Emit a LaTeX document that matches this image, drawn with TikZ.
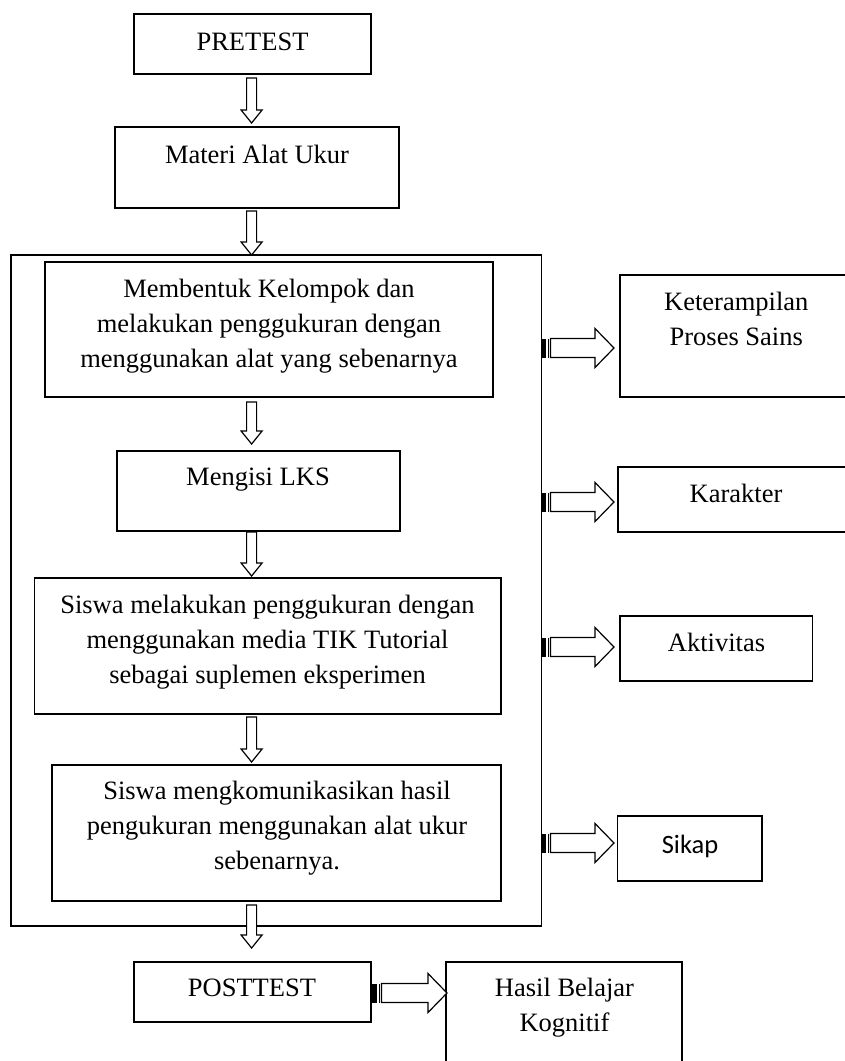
\documentclass[tikz,border=0pt]{standalone}
\usepackage{fontspec}
\setmainfont{Liberation Serif}
\newfontfamily\calib{Carlito}
\usetikzlibrary{calc}
\newcommand\ml[1]{\vtop{\baselineskip=35pt\lineskiplimit=-30pt\halign{\hfil##\hfil\cr#1\crcr}}}
\newcommand\DArr[2]{\draw[arr] let \p1=(#1), \p2=(#2) in
  (\x1-5pt,\y1) -- (\x1-5pt,\y2+13pt) -- (\x1-10.5pt,\y2+13pt) -- (\x1,\y2)
  -- (\x1+10.5pt,\y2+13pt) -- (\x1+5pt,\y2+13pt) -- (\x1+5pt,\y1) -- cycle;}
\newcommand\SArr[2]{%
  \fill let \p1=(#1) in (\x1,\y1-9.5pt) rectangle (\x1+5pt,\y1+9.5pt);
  \draw[line width=1pt] let \p1=(#1) in (\x1+7.5pt,\y1-9.5pt) -- (\x1+7.5pt,\y1+9.5pt);
  \draw[arr] let \p1=(#1), \p2=(#2) in
  (\x1+9.5pt,\y1-9.5pt) -- (\x2-19pt,\y1-9.5pt) -- (\x2-19pt,\y1-19.5pt) -- (\x2,\y1)
  -- (\x2-19pt,\y1+19.5pt) -- (\x2-19pt,\y1+9.5pt) -- (\x1+9.5pt,\y1+9.5pt) -- cycle;}
\begin{document}
\begin{tikzpicture}[x=1pt,y=-1pt,
  box/.style={draw, line width=1.5pt, inner sep=0pt},
  txt/.style={anchor=base, inner sep=0pt, font=\fontsize{26.5}{35}\selectfont},
  arr/.style={draw, line width=1.2pt, fill=white, line join=miter}]
\useasboundingbox (0,0) rectangle (845,1061);
\clip (0,0) rectangle (845,1061);
\fill[white] (0,0) rectangle (845,1061);
% boxes
\node[box, minimum width=237pt, minimum height=60pt] (pre) at (252.5,44) {};
\node[box, minimum width=284pt, minimum height=81pt] (mat) at (257,167.5) {};
\node[box, minimum width=530.5pt, minimum height=671pt] (outer) at (276.25,590.5) {};
\node[box, minimum width=448pt, minimum height=135pt] (b1) at (269,329.5) {};
\node[box, minimum width=283pt, minimum height=80pt] (lks) at (258.5,491) {};
\node[box, minimum width=466.5pt, minimum height=136pt] (b3) at (267.75,646) {};
\node[box, minimum width=449pt, minimum height=136pt] (b4) at (276.5,833) {};
\node[box, minimum width=237pt, minimum height=60pt] (post) at (252.5,992) {};
\node[box, minimum width=236pt, minimum height=113pt] (hasil) at (564,1018.5) {};
\node[box, minimum width=233pt, minimum height=122pt] (kps) at (736.5,336) {};
\node[box, minimum width=236pt, minimum height=65pt] (kar) at (736,499.5) {};
\node[box, minimum width=192.5pt, minimum height=65pt] (akt) at (716.25,648.5) {};
\node[box, minimum width=144.5pt, minimum height=65pt] (sik) at (689.75,848.5) {};
% texts
\node[txt] (pret) at (252.5,50.5) {PRETEST};
\node[txt] (matt) at (257,163.5) {Materi Alat Ukur};
\node[txt] (b1t) at (269,297.5) {\ml{Membentuk Kelompok dan\cr melakukan penggukuran dengan\cr menggunakan alat yang sebenarnya}};
\node[txt] (lkst) at (258,485) {Mengisi LKS};
\node[txt] (b3t) at (267.5,613.3) {\ml{Siswa melakukan penggukuran dengan\cr menggunakan media TIK Tutorial\cr sebagai suplemen eksperimen}};
\node[txt] (b4t) at (277,799.3) {\ml{Siswa mengkomunikasikan hasil\cr pengukuran menggunakan alat ukur\cr sebenarnya.}};
\node[txt] (postt) at (252,996.7) {POSTTEST};
\node[txt] (hasilt) at (564.5,996.7) {\ml{Hasil Belajar\cr Kognitif}};
\node[txt] (kpst) at (736.3,310) {\ml{Keterampilan\cr Proses Sains}};
\node[txt] (kart) at (736,502.7) {Karakter};
\node[txt] (aktt) at (716.5,651.7) {Aktivitas};
\node[txt] (sikt) at (690,853.3) {\calib Sikap};
% arrow end points
\coordinate (a1s) at (251.6,78);  \coordinate (a1e) at (251.6,123);
\coordinate (a2s) at (251.6,211); \coordinate (a2e) at (251.6,255);
\coordinate (a3s) at (251.6,402); \coordinate (a3e) at (251.6,444);
\coordinate (a4s) at (251.6,532); \coordinate (a4e) at (251.6,576);
\coordinate (a5s) at (251.6,717); \coordinate (a5e) at (251.6,762);
\coordinate (a6s) at (251.6,905); \coordinate (a6e) at (251.6,948);
\coordinate (r1s) at (541,348); \coordinate (r1e) at (614,348);
\coordinate (r2s) at (541,502); \coordinate (r2e) at (614,502);
\coordinate (r3s) at (541,647); \coordinate (r3e) at (614,647);
\coordinate (r4s) at (541,843); \coordinate (r4e) at (614,843);
\coordinate (r5s) at (372,993); \coordinate (r5e) at (447,993);
\DArr{a1s}{a1e}
\DArr{a2s}{a2e}
\DArr{a3s}{a3e}
\DArr{a4s}{a4e}
\DArr{a5s}{a5e}
\DArr{a6s}{a6e}
\SArr{r1s}{r1e}
\SArr{r2s}{r2e}
\SArr{r3s}{r3e}
\SArr{r4s}{r4e}
\SArr{r5s}{r5e}
\end{tikzpicture}
\end{document}
